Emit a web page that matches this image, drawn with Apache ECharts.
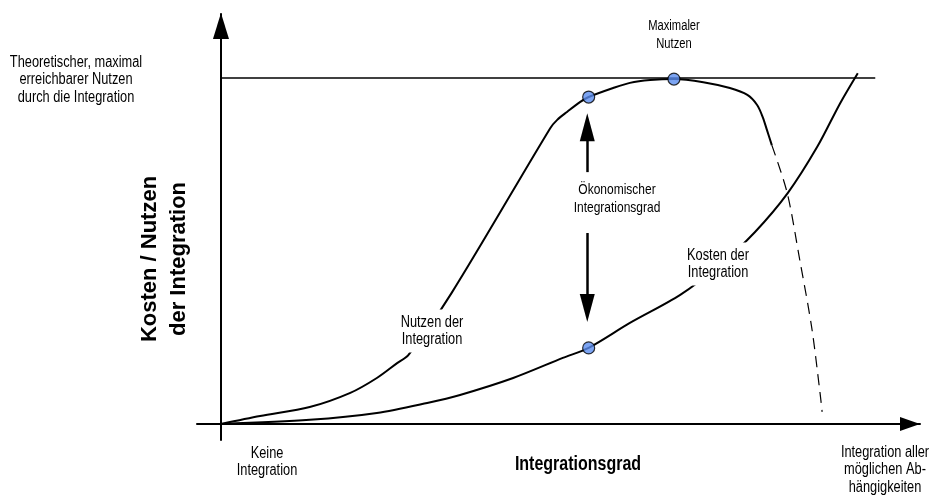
<!DOCTYPE html>
<html>
<head>
<meta charset="utf-8">
<script src="https://cdn.jsdelivr.net/npm/echarts@6/dist/echarts.min.js"></script>
<style>
  html, body { margin: 0; padding: 0; background: #fff; }
  #main { width: 930px; height: 498px; }
</style>
</head>
<body>
<div id="main"></div>
<script>
// Nutzen der Integration (x = Integrationsgrad, y = Nutzen)
const nutzenX = [0, 5.6, 12.7, 18.5, 22.3, 25.2, 26.8, 33.0, 47.1, 48.1, 49.5, 51.4, 52.6, 56.1, 58.5, 61.4, 64.8, 69.0, 72.8, 75.3, 76.7, 77.5, 78.1, 78.8];
const nutzenY = [0, 2.3, 4.9, 9.0, 13.3, 17.6, 19.9, 37.9, 85.5, 87.9, 90.2, 93.1, 94.5, 97.1, 98.6, 99.4, 99.7, 98.8, 97.1, 95.1, 92.2, 88.7, 85.0, 80.6];
// gestrichelter Abfall nach dem Maximum
const abfallX = [78.8, 81.0, 82.8, 84.5, 85.7, 86.0];
const abfallY = [80.6, 66.8, 47.4, 28.0, 9.0, 3.5];
// Kosten der Integration
const kostenX = [0, 12.7, 22.3, 29.5, 34.2, 41.8, 48.9, 52.6, 58.5, 65.7, 71.4, 76.4, 81.1, 85.3, 88.6, 91.1];
const kostenY = [0, 1.2, 3.2, 6.1, 8.4, 13.3, 19.1, 22.0, 29.2, 37.3, 46.0, 55.5, 66.8, 80.1, 92.8, 101.4];
// theoretisches Maximum
const maxNutzen = 100;
const maxLinieX = [0, 93.6];
// markierte Punkte
const punkteX = [52.6, 64.8, 52.6];
const punkteY = [94.5, 99.7, 22.0];
// Doppelpfeil (ökonomischer Integrationsgrad), Endpunkt = Mitte der Pfeilspitze
const pfeilX = 52.4;
const pfeilOben = [72.8, 85.8];
const pfeilUnten = [55.2, 33.5];

function zip(xs, ys) {
    return xs.map((x, i) => [x, ys[i]]);
}

const chart = echarts.init(document.getElementById('main'));
const font = 'Liberation Sans, Arial, sans-serif';

// schmale Beschriftung (horizontal gestaucht wie im Original)
function label(text, x, y, size, extra) {
    return {
        type: 'text', z: 10, x: x, y: y, scaleX: 0.8,
        style: Object.assign({
            text: text, x: 0, y: 0, align: 'center', verticalAlign: 'middle',
            font: size + 'px ' + font, lineHeight: 17.5, fill: '#000'
        }, extra || {})
    };
}

const option = {
    backgroundColor: '#fff',
    animation: false,
    grid: {
        left: 197,
        right: 10,
        top: 14,
        bottom: 58
    },
    xAxis: {
        type: 'value',
        min: -3.43,
        max: 100,
        axisLine: {
            onZero: true,
            lineStyle: { color: '#000', width: 2 },
            symbol: ['none', 'triangle'],
            symbolSize: [14, 20],
            symbolOffset: [0, -10]
        },
        axisTick: { show: false },
        axisLabel: { show: false },
        splitLine: { show: false }
    },
    yAxis: {
        type: 'value',
        min: -4.62,
        max: 118.5,
        axisLine: {
            onZero: true,
            lineStyle: { color: '#000', width: 2 },
            symbol: ['none', 'triangle'],
            symbolSize: [16, 26],
            symbolOffset: [0, -12]
        },
        axisTick: { show: false },
        axisLabel: { show: false },
        splitLine: { show: false }
    },
    series: [
        {
            name: 'Maximum',
            type: 'line',
            data: maxLinieX.map(x => [x, maxNutzen]),
            symbol: 'none',
            lineStyle: { color: '#000', width: 1.6 },
            z: 1
        },
        {
            name: 'Nutzen der Integration',
            type: 'line',
            data: zip(nutzenX, nutzenY),
            smooth: 0.3,
            symbol: 'none',
            lineStyle: { color: '#000', width: 2 },
            z: 2
        },
        {
            name: 'Nutzen (Abfall)',
            type: 'line',
            data: zip(abfallX, abfallY),
            smooth: 0.3,
            symbol: 'none',
            lineStyle: { color: '#000', width: 1.2, type: [11, 7] },
            z: 2
        },
        {
            name: 'Kosten der Integration',
            type: 'line',
            data: zip(kostenX, kostenY),
            smooth: 0.3,
            symbol: 'none',
            lineStyle: { color: '#000', width: 2 },
            z: 2,
            markLine: {
                silent: true,
                symbol: ['none', 'triangle'],
                symbolSize: [15, 28],
                label: { show: false },
                lineStyle: { color: '#000', width: 2.5, type: 'solid' },
                data: [
                    [{ coord: [pfeilX, pfeilOben[0]] }, { coord: [pfeilX, pfeilOben[1]] }],
                    [{ coord: [pfeilX, pfeilUnten[0]] }, { coord: [pfeilX, pfeilUnten[1]] }]
                ]
            }
        },
        {
            name: 'Punkte',
            type: 'scatter',
            data: zip(punkteX, punkteY),
            symbolSize: 12,
            itemStyle: { color: '#5b8def', borderColor: '#000', borderWidth: 1.2 },
            z: 5
        }
    ],
    graphic: [
        label('Theoretischer, maximal\nerreichbarer Nutzen\ndurch die Integration', 76, 80, 16),
        label('Maximaler\nNutzen', 674, 35, 14),
        label('Ökonomischer\nIntegrationsgrad', 617, 199, 15),
        label('Nutzen der\nIntegration', 432, 331, 16, { backgroundColor: '#fff', padding: [4, 6] }),
        label('Kosten der\nIntegration', 718, 264, 16, { backgroundColor: '#fff', padding: [4, 6] }),
        label('Keine\nIntegration', 267, 462, 16),
        label('Integrationsgrad', 578, 464, 20, { font: 'bold 20px ' + font }),
        label('Integration aller\nmöglichen Ab-\nhängigkeiten', 885, 470, 16),
        {
            type: 'text', z: 10, x: 164, y: 259, rotation: Math.PI / 2,
            style: {
                text: 'Kosten / Nutzen\nder Integration', x: 0, y: 0, align: 'center', verticalAlign: 'middle',
                font: 'bold 22px ' + font, lineHeight: 29, fill: '#000'
            }
        }
    ]
};

chart.setOption(option);
</script>
</body>
</html>
